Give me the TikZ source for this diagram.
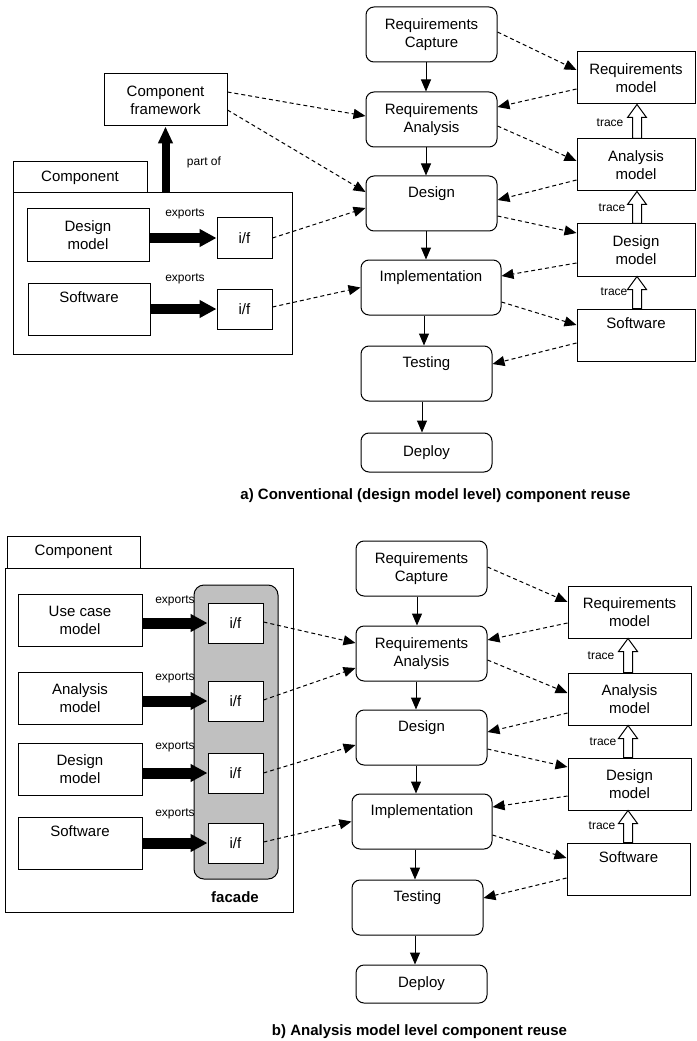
\documentclass[tikz,border=0pt]{standalone}
\usepackage{fontspec}
\setmainfont{Liberation Sans}
\usetikzlibrary{arrows.meta,calc}
\definecolor{facadegray}{RGB}{192,192,192}
\newcommand{\tracearr}[3]{%
  \coordinate (tx) at (#3,0);
  \draw[trc] ($(#1.north -| tx)+(-4.5,0)$) -- ($(#2.south -| tx)+(-4.5,13)$) -- ($(#2.south -| tx)+(-9.5,13)$) -- (#2.south -| tx) -- ($(#2.south -| tx)+(9.5,13)$) -- ($(#2.south -| tx)+(4.5,13)$) -- ($(#1.north -| tx)+(4.5,0)$) -- cycle;}
\begin{document}
\begin{tikzpicture}[x=0.75pt,y=-0.75pt,
  every node/.style={font=\fontsize{11.25pt}{13.5pt}\selectfont, align=center, inner sep=0pt},
  sq/.style 2 args={draw, line width=0.75pt, minimum width=#1*0.75pt, minimum height=#2*0.75pt},
  rd/.style 2 args={sq={#1}{#2}, rounded corners=6pt},
  lbl/.style={font=\fontsize{9pt}{10.8pt}\selectfont},
  captxt/.style={font=\fontsize{11.25pt}{13.5pt}\selectfont\bfseries},
  flow/.style={line width=0.75pt, -{Triangle[length=9pt,width=7.5pt]}},
  dsh/.style={line width=0.75pt, dash pattern=on 3pt off 2.25pt, -{Triangle[length=9pt,width=7.5pt]}},
  fat/.style={line width=#1*0.75pt, -{Triangle[length=12.75pt,width=12.75pt]}},
  trc/.style={draw, fill=white, line width=0.75pt},
]
\useasboundingbox (0,0) rectangle (696,1041);

% ================= TOP (a) =================
\node[sq={279}{161}] (cbox1) at (152.5,273.5) {};
\node[sq={134}{31}] (ctab1) at (80,177.5) {Component};
\node[sq={123}{52}] (cf) at (165.5,100) {Component\\framework};
\node[sq={122}{52}] (dm1) at (88,235) {Design\\model};
\node[sq={122}{52}] (sw1) at (89,309) {Software\\\strut};
\node[sq={55}{40}] (if1a) at (244.5,238) {i/f};
\node[sq={55}{40}] (if1b) at (244.5,309) {i/f};
\node[lbl] (ex1a) at (185,214) {exports};
\node[lbl] (ex1b) at (185,279) {exports};
\node[lbl] (po) at (204,162) {part of};
\draw[fat=10] (dm1.east |- if1a.west) -- (if1a.west);
\draw[fat=10] (sw1.east |- if1b.west) -- (if1b.west);
\draw[line width=6pt, -{Triangle[length=12.75pt,width=10.5pt]}] (cbox1.north -| cf.south) -- (cf.south);

\node[rd={131}{55}] (rc1) at (431.5,34.5) {Requirements\\Capture};
\node[rd={131}{55}] (ra1) at (431.5,119.5) {Requirements\\Analysis};
\node[rd={131}{55}] (d1) at (431.5,203.5) {Design\\\strut};
\node[rd={140}{55}] (im1) at (431,287.5) {Implementation\\\strut};
\node[rd={131}{55}] (t1) at (426.5,373.5) {Testing\\\strut};
\node[rd={131}{39}] (dep1) at (426.5,452.5) {Deploy};
\node[sq={118}{52}] (rm1) at (636,78) {Requirements\\model};
\node[sq={118}{52}] (am1) at (636,165) {Analysis\\model};
\node[sq={118}{52}] (dmr1) at (636,250) {Design\\model};
\node[sq={118}{52}] (swr1) at (636,335) {Software\\\strut};

\coordinate (ax1) at (426,0);
\coordinate (ax2) at (424,0);
\coordinate (ax3) at (422,0);
\draw[flow] (rc1.south -| ax1) -- (ra1.north -| ax1);
\draw[flow] (ra1.south -| ax1) -- (d1.north -| ax1);
\draw[flow] (d1.south -| ax1) -- (im1.north -| ax1);
\draw[flow] (im1.south -| ax2) -- (t1.north -| ax2);
\draw[flow] (t1.south -| ax3) -- (dep1.north -| ax3);

\tracearr{am1}{rm1}{637}
\tracearr{dmr1}{am1}{637}
\tracearr{swr1}{dmr1}{637}
\node[lbl] (tr1a) at (610,123) {trace};
\node[lbl] (tr1b) at (612,208) {trace};
\node[lbl] (tr1c) at (614,292) {trace};

\draw[dsh] ($(rc1.east)+(0,-2.5)$) -- ($(rm1.west)+(0,-8)$);
\draw[dsh] ($(rm1.west)+(0,11)$) -- ($(ra1.east)+(0,-12.5)$);
\draw[dsh] ($(ra1.east)+(0,6.5)$) -- ($(am1.west)+(0,-4)$);
\draw[dsh] ($(am1.west)+(0,15)$) -- ($(d1.east)+(0,-3.5)$);
\draw[dsh] ($(d1.east)+(0,12.5)$) -- ($(dmr1.west)+(0,-17)$);
\draw[dsh] ($(dmr1.west)+(0,13)$) -- ($(im1.east)+(0,-11.5)$);
\draw[dsh] ($(im1.east)+(0,14.5)$) -- ($(swr1.west)+(0,-10)$);
\draw[dsh] ($(swr1.west)+(0,8)$) -- ($(t1.east)+(0,-9.5)$);
\draw[dsh] ($(cf.east)+(0,-8)$) -- ($(ra1.west)+(0,-3.5)$);
\draw[dsh] ($(cf.east)+(0,10)$) -- ($(d1.west)+(0,-11.5)$);
\draw[dsh] (if1a.east) -- ($(d1.west)+(0,4.5)$);
\draw[dsh] ($(if1b.east)+(0,-2)$) -- (im1.west);

\node[captxt] (capa) at (435.5,496) {a) Conventional (design model level) component reuse};

% ================= BOTTOM (b) =================
\node[sq={288}{344}] (cbox2) at (149,740) {};
\node[sq={133}{32}] (ctab2) at (73.5,552) {Component};
\node[draw, fill=facadegray, line width=0.75pt, rounded corners=7.5pt, minimum width=84*0.75pt, minimum height=294*0.75pt] (fac) at (236,732) {};
\node[captxt] (facl) at (235,897) {facade};

\node[sq={124}{52}] (uc) at (80,620) {Use case\\model};
\node[sq={124}{52}] (aml) at (80,698) {Analysis\\model};
\node[sq={124}{52}] (dml) at (80,769) {Design\\model};
\node[sq={124}{52}] (swl) at (80,843) {Software\\\strut};
\node[sq={55}{40}, fill=white] (if2a) at (235.5,623) {i/f};
\node[sq={55}{40}, fill=white] (if2b) at (235.5,701) {i/f};
\node[sq={55}{40}, fill=white] (if2c) at (235.5,773) {i/f};
\node[sq={55}{40}, fill=white] (if2d) at (235.5,843) {i/f};
\node[lbl] (ex2a) at (175,601) {exports};
\node[lbl] (ex2b) at (175,678) {exports};
\node[lbl] (ex2c) at (175,747) {exports};
\node[lbl] (ex2d) at (175,814) {exports};
\draw[fat=11] (uc.east |- if2a.west) -- (if2a.west);
\draw[fat=11] (aml.east |- if2b.west) -- (if2b.west);
\draw[fat=11] (dml.east |- if2c.west) -- (if2c.west);
\draw[fat=11] (swl.east |- if2d.west) -- (if2d.west);

\node[rd={131}{55}] (rc2) at (421.5,568.5) {Requirements\\Capture};
\node[rd={131}{55}] (ra2) at (421.5,653.5) {Requirements\\Analysis};
\node[rd={131}{55}] (d2) at (421.5,737.5) {Design\\\strut};
\node[rd={140}{55}] (im2) at (422,821.5) {Implementation\\\strut};
\node[rd={131}{55}] (t2) at (417.5,907.5) {Testing\\\strut};
\node[rd={131}{38}] (dep2) at (421.5,984) {Deploy};
\node[sq={123}{52}] (rm2) at (629.5,612) {Requirements\\model};
\node[sq={123}{52}] (am2) at (629.5,699) {Analysis\\model};
\node[sq={123}{52}] (dmr2) at (629.5,784) {Design\\model};
\node[sq={123}{52}] (swr2) at (628.5,869) {Software\\\strut};

\coordinate (bx1) at (417,0);
\coordinate (bx2) at (416,0);
\coordinate (bx3) at (415,0);
\draw[flow] (rc2.south -| bx1) -- (ra2.north -| bx1);
\draw[flow] (ra2.south -| bx2) -- (d2.north -| bx2);
\draw[flow] (d2.south -| bx2) -- (im2.north -| bx2);
\draw[flow] (im2.south -| bx3) -- (t2.north -| bx3);
\draw[flow] (t2.south -| bx3) -- (dep2.north -| bx3);

\tracearr{am2}{rm2}{628}
\tracearr{dmr2}{am2}{628}
\tracearr{swr2}{dmr2}{628}
\node[lbl] (tr2a) at (601,656) {trace};
\node[lbl] (tr2b) at (603,742) {trace};
\node[lbl] (tr2c) at (602,826) {trace};

\draw[dsh] ($(rc2.east)+(0,-1.5)$) -- ($(rm2.west)+(0,-10)$);
\draw[dsh] ($(rm2.west)+(0,11)$) -- ($(ra2.east)+(0,-13.5)$);
\draw[dsh] ($(ra2.east)+(0,6.5)$) -- ($(am2.west)+(0,-6)$);
\draw[dsh] ($(am2.west)+(0,14)$) -- ($(d2.east)+(0,-5.5)$);
\draw[dsh] ($(d2.east)+(0,11.5)$) -- ($(dmr2.west)+(0,-17)$);
\draw[dsh] ($(dmr2.west)+(0,12)$) -- ($(im2.east)+(0,-14.5)$);
\draw[dsh] ($(im2.east)+(0,13.5)$) -- ($(swr2.west)+(0,-11)$);
\draw[dsh] ($(swr2.west)+(0,9)$) -- ($(t2.east)+(0,-9.5)$);
\draw[dsh] ($(if2a.east)+(0,-1)$) -- ($(ra2.west)+(0,-10.5)$);
\draw[dsh] ($(if2b.east)+(0,-1)$) -- ($(ra2.west)+(0,14.5)$);
\draw[dsh] (if2c.east) -- ($(d2.west)+(0,7.5)$);
\draw[dsh] ($(if2d.east)+(0,-1)$) -- (im2.west);

\node[captxt] (capb) at (419.5,1032) {b) Analysis model level component reuse};
\end{tikzpicture}
\end{document}
